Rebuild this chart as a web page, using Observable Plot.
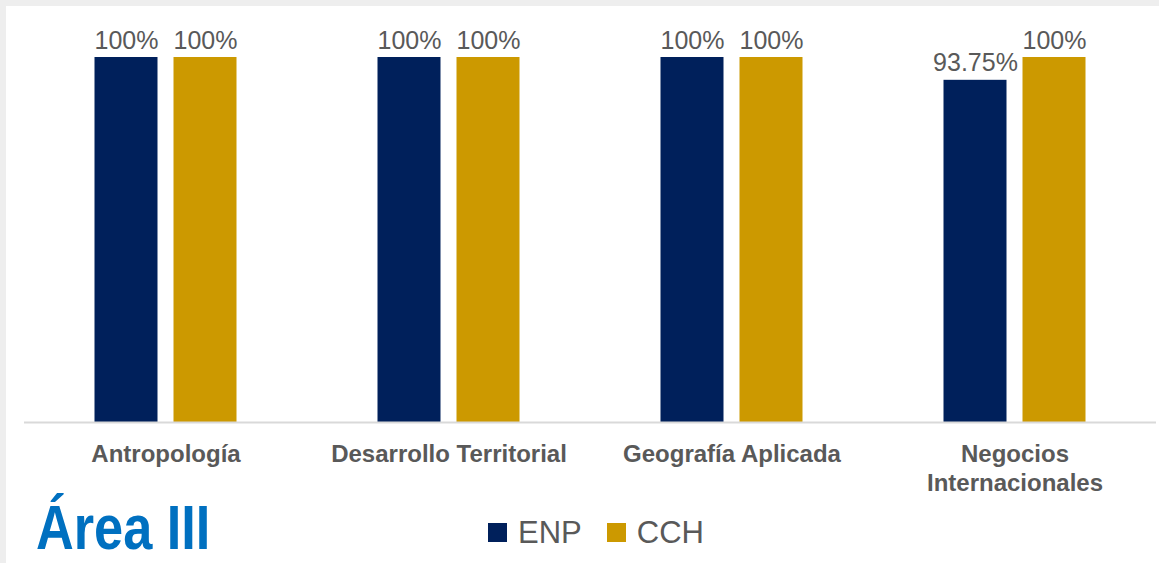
<!DOCTYPE html>
<html>
<head>
<meta charset="utf-8">
<script src="https://cdn.jsdelivr.net/npm/d3@7"></script>
<script src="https://cdn.jsdelivr.net/npm/@observablehq/plot@0.6"></script>
<style>
  html, body { margin: 0; padding: 0; }
  body { width: 1159px; height: 563px; background: #eeeeee; position: relative; overflow: hidden;
         font-family: "Liberation Sans", Arial, sans-serif; }
  #panel { position: absolute; left: 6px; top: 6px; width: 1153px; height: 557px; background: #fff; }
  #chart { position: absolute; left: 0; top: 0; }
  #title { position: absolute; left: 30px; top: 490px; font-size: 63px; font-weight: bold; color: #0070c0; line-height: 1; white-space: nowrap; transform: scaleX(0.83); transform-origin: left top; }
  #legend { position: absolute; left: 482px; top: 511px; display: flex; align-items: center; font-size: 31px; color: #595959; line-height: 1; }
  #legend .sw { width: 19px; height: 19px; display: inline-block; margin-right: 11px; }
  #legend .item { display: flex; align-items: center; margin-right: 25px; }
</style>
</head>
<body>
<div id="panel">
  <div id="chart"></div>
  <div id="title">Área III</div>
  <div id="legend"></div>
</div>
<script>
const categories = ["Antropología", "Desarrollo Territorial", "Geografía Aplicada", "Negocios Internacionales"];
const categoryLabels = ["Antropología", "Desarrollo Territorial", "Geografía Aplicada", "Negocios\nInternacionales"];
const series = ["ENP", "CCH"];
const enpValues = [100, 100, 100, 93.75];
const cchValues = [100, 100, 100, 100];
const colors = ["#00205b", "#cc9900"];

const data = [];
categories.forEach((c, i) => {
  data.push({category: c, series: "ENP", value: enpValues[i]});
  data.push({category: c, series: "CCH", value: cchValues[i]});
});

const fmt = v => (Number.isInteger(v) ? v : v.toFixed(2)) + "%";
const labelOf = Object.fromEntries(categories.map((c, i) => [c, categoryLabels[i]]));

const chart = Plot.plot({
  width: 1153,
  height: 500,
  marginTop: 51,
  marginBottom: 84,
  marginLeft: 17.5,
  marginRight: 3.5,
  style: {fontFamily: '"Liberation Sans", Arial, sans-serif', background: "transparent"},
  fx: {domain: categories, padding: 0, label: null, axis: null},
  x: {domain: series, paddingInner: 0.2, paddingOuter: 0.869, axis: null},
  y: {domain: [0, 100], axis: null},
  color: {domain: series, range: colors},
  marks: [
    Plot.barY(data, {fx: "category", x: "series", y: "value", fill: "series"}),
    Plot.ruleY([0], {stroke: "#d9d9d9", strokeWidth: 2}),
    Plot.text(data, {fx: "category", x: "series", y: "value", text: d => fmt(d.value), lineAnchor: "bottom", dy: -9, fontSize: 25, fill: "#595959", ariaLabel: "values"}),
    Plot.axisFx({anchor: "bottom", tickSize: 0, tickPadding: 20, tickFormat: d => labelOf[d], fontSize: 24, fontWeight: "bold", fill: "#595959", lineHeight: 1.17, label: null})
  ]
});
document.getElementById("chart").appendChild(chart);

// Narrow the value labels (reference uses a condensed face)
chart.querySelectorAll('g[aria-label="values"] text').forEach(t => {
  const w = t.getComputedTextLength();
  t.setAttribute("textLength", (w * 0.8).toFixed(1));
  t.setAttribute("lengthAdjust", "spacingAndGlyphs");
});

const legend = document.getElementById("legend");
series.forEach((s, i) => {
  const item = document.createElement("div");
  item.className = "item";
  const sw = document.createElement("span");
  sw.className = "sw";
  sw.style.background = colors[i];
  const t = document.createElement("span");
  t.textContent = s;
  item.appendChild(sw);
  item.appendChild(t);
  legend.appendChild(item);
});
</script>
</body>
</html>
